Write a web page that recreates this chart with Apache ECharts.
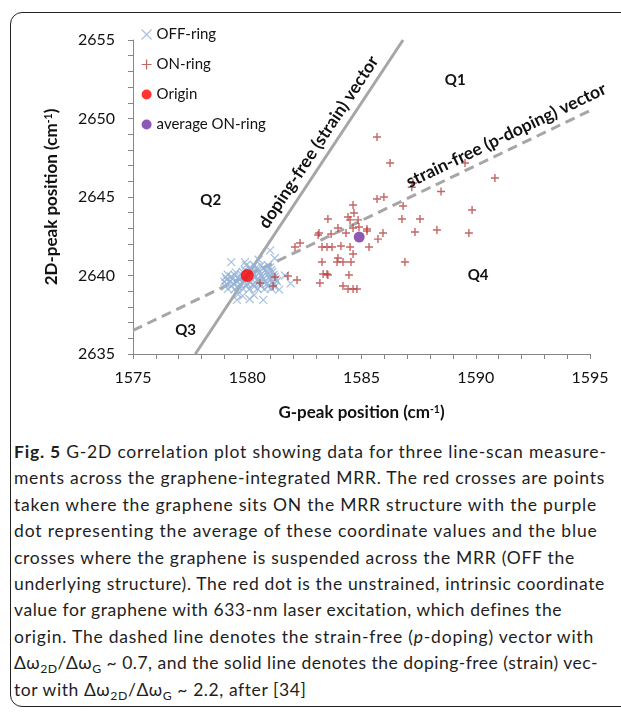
<!DOCTYPE html>
<html><head><meta charset="utf-8">
<script src="https://cdn.jsdelivr.net/npm/echarts@6.0.0/dist/echarts.min.js"></script>
<style>
html,body{margin:0;padding:0;width:621px;height:712px;overflow:hidden;background:#fff;}
#frame{position:absolute;left:10px;top:12px;width:660px;height:693px;border:1.5px solid #222;border-radius:12px;}
#chart{position:absolute;left:0;top:0;width:621px;height:430px;}
#caption{position:absolute;left:14px;top:439px;width:610px;font-family:Lato,sans-serif;font-size:17.5px;line-height:26.4px;color:#1e1e1e;}
#caption div{white-space:nowrap;height:26.4px;}
#caption span{display:inline-block;white-space:nowrap;}
#caption sub{font-size:70%;line-height:0;vertical-align:-0.3em;}
</style></head>
<body>
<div id="frame"></div>
<div id="chart"></div>
<div id="caption">
<div data-end="607"><span><b>Fig. 5</b> G-2D correlation plot showing data for three line-scan measure-</span></div>
<div data-end="605"><span>ments across the graphene-integrated MRR. The red crosses are points</span></div>
<div data-end="597"><span>taken where the graphene sits ON the MRR structure with the purple</span></div>
<div data-end="598"><span>dot representing the average of these coordinate values and the blue</span></div>
<div data-end="575"><span>crosses where the graphene is suspended across the MRR (OFF the</span></div>
<div data-end="605"><span>underlying structure). The red dot is the unstrained, intrinsic coordinate</span></div>
<div data-end="562"><span>value for graphene with 633-nm laser excitation, which defines the</span></div>
<div data-end="594"><span>origin. The dashed line denotes the strain-free (<i>p</i>-doping) vector with</span></div>
<div data-end="598"><span>Δω<sub>2D</sub>/Δω<sub>G</sub> ~ 0.7, and the solid line denotes the doping-free (strain) vec-</span></div>
<div data-end="306"><span>tor with Δω<sub>2D</sub>/Δω<sub>G</sub> ~ 2.2, after [34]</span></div>
</div>
<script>
// ---- data ----
const xRange = [1575, 1595];
const yRange = [2635, 2655];
const tickInterval = 5;
const seriesNames = ['OFF-ring', 'ON-ring', 'Origin', 'average ON-ring'];
const offRing = [
 [1579.15,2639.15],[1579.45,2639.12],[1579.8,2639.18],[1580.1,2639.14],[1580.45,2639.16],[1580.75,2639.13],[1581.05,2639.17],
 [1579.05,2639.3],[1579.3,2639.32],[1579.6,2639.28],[1579.95,2639.31],[1580.3,2639.29],[1580.6,2639.33],[1580.9,2639.3],[1581.2,2639.28],
 [1579.1,2639.45],[1579.4,2639.47],[1579.7,2639.44],[1580.0,2639.46],[1580.25,2639.43],[1580.55,2639.47],[1580.85,2639.45],[1581.15,2639.44],
 [1579.0,2639.6],[1579.25,2639.62],[1579.55,2639.59],[1579.85,2639.61],[1580.15,2639.6],[1580.5,2639.58],[1580.8,2639.62],[1581.1,2639.6],[1581.3,2639.63],
 [1579.1,2639.75],[1579.35,2639.77],[1579.65,2639.74],[1579.9,2639.76],[1580.2,2639.75],[1580.45,2639.73],[1580.7,2639.77],[1581.0,2639.74],[1581.25,2639.76],
 [1579.05,2639.9],[1579.3,2639.92],[1579.6,2639.88],[1579.85,2639.91],[1580.35,2639.9],[1580.65,2639.92],[1580.95,2639.89],[1581.2,2639.9],
 [1579.15,2640.05],[1579.45,2640.03],[1579.75,2640.06],[1580.3,2640.05],[1580.6,2640.04],[1580.9,2640.07],[1581.15,2640.05],
 [1579.5,2640.2],[1579.8,2640.22],[1580.25,2640.19],[1580.55,2640.21],[1580.85,2640.2],[1581.1,2640.22],
 [1579.9,2640.35],[1580.2,2640.37],[1580.5,2640.34],[1580.8,2640.36],[1581.05,2640.35],
 [1580.1,2640.5],[1580.4,2640.52],[1580.7,2640.49],[1581.0,2640.51],
 [1579.95,2640.65],[1580.3,2640.67],[1580.6,2640.64],[1580.9,2640.66],
 [1579.3,2640.85],[1579.9,2640.85],[1580.5,2641.0],[1581.0,2641.6],[1581.2,2641.1],
 [1579.55,2638.45],[1580.1,2638.5],[1580.7,2638.45],[1579.8,2638.7],[1579.6,2638.8],[1580.3,2638.75],
 [1581.65,2640.0],[1581.9,2639.5],[1581.4,2639.1]
];
const onRing = [
 [1582.31,2642.07],[1582.09,2641.82],[1583.10,2642.58],[1583.27,2641.82],[1583.49,2641.82],[1583.27,2640.86],
 [1583.32,2640.10],[1583.49,2640.10],[1583.18,2639.52],[1580.56,2639.52],[1581.21,2639.90],[1581.13,2639.33],
 [1581.78,2639.97],[1582.18,2639.71],[1583.14,2642.71],[1583.67,2642.64],[1584.32,2642.71],[1585.24,2642.83],
 [1585.94,2642.71],[1587.34,2642.77],[1585.72,2642.32],[1583.71,2641.82],[1584.10,2641.88],[1584.50,2641.82],
 [1585.33,2641.82],[1584.63,2641.37],[1583.97,2641.11],[1583.93,2640.86],[1584.19,2640.86],[1584.54,2640.86],
 [1586.90,2640.86],[1583.53,2640.03],[1584.45,2640.03],[1584.19,2639.33],[1584.41,2639.14],[1584.63,2639.14],
 [1584.80,2639.14],[1585.68,2648.82],[1586.25,2647.17],[1587.25,2645.89],[1587.20,2645.62],[1585.68,2644.87],
 [1585.98,2645.00],[1586.82,2644.43],[1584.63,2644.49],[1584.67,2643.98],[1584.41,2643.73],[1584.50,2643.54],
 [1584.85,2643.54],[1583.53,2643.60],[1586.77,2643.60],[1587.56,2643.60],[1583.97,2643.03],[1584.63,2643.03],
 [1584.89,2643.09],[1585.24,2642.96],[1588.48,2645.35],[1588.30,2642.90],[1589.53,2647.17],[1590.84,2646.21],
 [1589.84,2644.17],[1589.70,2642.71]
];
const origin = [1580, 2640];
const avgOnRing = [1584.9, 2642.45];
const strainSlope = 2.2;   // doping-free (strain) vector
const dopingSlope = 0.7;   // strain-free (p-doping) vector
const quadNames = ['Q1', 'Q2', 'Q3', 'Q4'];
const quadPos = [[1589.1, 2652.45], [1578.4, 2644.8], [1577.3, 2636.5], [1590.1, 2640.05]];
const strainLabel = 'doping-free (strain) vector';
const dopingLabel = 'strain-free (p-doping) vector';

// ---- caption line fitting ----
document.querySelectorAll('#caption div').forEach(d => {
  const s = d.querySelector('span');
  const target = Number(d.dataset.end) - 14;
  const w = s.getBoundingClientRect().width;
  const n = s.textContent.length;
  s.style.letterSpacing = ((target - w) / n).toFixed(3) + 'px';
});

// ---- chart ----
const FONT = 'Lato, "Open Sans", sans-serif';
const AXIS = '#868686';
const crossX = 'path://M0,0L10,10M10,0L0,10';
const crossP = 'path://M5,0L5,10M0,5L10,5';
const blue = '#95b3d7', red = '#b8403d', dot = '#ff0000', purple = '#7030a0';

const strainLine = [yRange[0], yRange[1]].map(y => [origin[0] + (y - origin[1]) / strainSlope, y]);
const dopingLine = [xRange[0], xRange[1]].map(x => [x, origin[1] + dopingSlope * (x - origin[0])]);

const chart = echarts.init(document.getElementById('chart'), null, {renderer: 'canvas'});
function axisCfg(r) {
  return {
    type: 'value', min: r[0], max: r[1], interval: tickInterval,
    axisLine: {show: true, lineStyle: {color: AXIS, width: 1}},
    axisTick: {show: true, length: 5, lineStyle: {color: AXIS}},
    minorTick: {show: true, splitNumber: 5, length: 5, lineStyle: {color: AXIS}},
    splitLine: {show: false},
    axisLabel: {fontFamily: FONT, fontSize: 16, color: '#111', formatter: v => String(v)}
  };
}
const xAxis = axisCfg(xRange); xAxis.axisLabel.margin = 16;
const yAxis = axisCfg(yRange); yAxis.axisLabel.margin = 18;

chart.setOption({
  animation: false,
  grid: {left: 133, right: 31, top: 40, bottom: 76},
  xAxis: xAxis, yAxis: yAxis,
  legend: {
    orient: 'vertical', left: 136, top: 22, itemGap: 15, itemWidth: 10, itemHeight: 11,
    textStyle: {fontFamily: FONT, fontSize: 15, color: '#111'},
    selectedMode: false,
    data: [
      {name: seriesNames[0], icon: crossX, itemStyle: {color: 'rgba(0,0,0,0)', borderColor: blue, borderWidth: 1.2}},
      {name: seriesNames[1], icon: crossP, itemStyle: {color: 'rgba(0,0,0,0)', borderColor: red, borderWidth: 1.2}},
      {name: seriesNames[2], icon: 'circle', itemStyle: {color: dot, borderWidth: 0}},
      {name: seriesNames[3], icon: 'circle', itemStyle: {color: purple, borderWidth: 0}}
    ]
  },
  series: [
    {type: 'line', data: strainLine, showSymbol: false, silent: true, z: 1,
     lineStyle: {color: '#a6a6a6', width: 3}},
    {type: 'line', data: dopingLine, showSymbol: false, silent: true, z: 1,
     lineStyle: {color: '#a6a6a6', width: 3, type: [10, 6]}},
    {name: seriesNames[0], type: 'scatter', data: offRing, symbol: crossX, symbolSize: 8, silent: true, z: 2,
     itemStyle: {color: 'rgba(0,0,0,0)', borderColor: blue, borderWidth: 1.3}},
    {name: seriesNames[1], type: 'scatter', data: onRing, symbol: crossP, symbolSize: 8, silent: true, z: 3,
     itemStyle: {color: 'rgba(0,0,0,0)', borderColor: red, borderWidth: 1.4}},
    {name: seriesNames[2], type: 'scatter', data: [origin], symbol: 'circle', symbolSize: 13, silent: true, z: 4,
     itemStyle: {color: dot}},
    {name: seriesNames[3], type: 'scatter', data: [avgOnRing], symbol: 'circle', symbolSize: 11, silent: true, z: 4,
     itemStyle: {color: purple}}
  ]
});

// ---- annotations (placed through the axes' scales) ----
const px = p => chart.convertToPixel({gridIndex: 0}, p);
const graphics = [];
quadNames.forEach((q, i) => {
  const p = px(quadPos[i]);
  graphics.push({type: 'text', x: p[0], y: p[1], z: 10,
    style: {text: q, fontFamily: FONT, fontSize: 15, fontWeight: 'bold', fill: '#111', align: 'center', verticalAlign: 'middle'}});
});
function lineLabel(text, a, b, off) {
  const pa = px(a), pb = px(b);
  const dx = pb[0] - pa[0], dy = pb[1] - pa[1];
  const len = Math.hypot(dx, dy);
  const ux = dx / len, uy = dy / len;
  let nx = uy, ny = -ux;
  if (ny > 0) { nx = -nx; ny = -ny; }
  const cx = (pa[0] + pb[0]) / 2 + nx * off, cy = (pa[1] + pb[1]) / 2 + ny * off;
  graphics.push({type: 'text', x: cx, y: cy, rotation: Math.atan2(-dy, dx), z: 10,
    style: {text: text, fontFamily: FONT, fontSize: 17.5, fontWeight: 'bold', fill: '#111', align: 'center', verticalAlign: 'middle'}});
}
lineLabel(strainLabel,
  [origin[0] + (2646.5 - origin[1]) / strainSlope, 2646.5],
  [origin[0] + (2649.5 - origin[1]) / strainSlope, 2649.5], 14);
lineLabel(dopingLabel,
  [1590.6, origin[1] + dopingSlope * (1590.6 - origin[0])],
  [1592.6, origin[1] + dopingSlope * (1592.6 - origin[0])], 14);

const gl = px([xRange[0], yRange[0]]), gr = px([xRange[1], yRange[1]]);
const richTitle = {t: {fontFamily: FONT, fontSize: 17, fontWeight: 'bold', fill: '#111'},
                   s: {fontFamily: FONT, fontSize: 10.5, fontWeight: 'bold', fill: '#111', verticalAlign: 'top'}};
graphics.push({type: 'text', x: (gl[0] + gr[0]) / 2, y: 413, z: 10,
  style: {text: '{t|G-peak position (cm}{s|-1}{t|)}', align: 'center', verticalAlign: 'middle', rich: richTitle}});
graphics.push({type: 'text', x: 52, y: (gl[1] + gr[1]) / 2, rotation: Math.PI / 2, z: 10,
  style: {text: '{t|2D-peak position (cm}{s|-1}{t|)}', align: 'center', verticalAlign: 'middle', rich: richTitle}});
chart.setOption({graphic: graphics});
</script>
</body></html>
